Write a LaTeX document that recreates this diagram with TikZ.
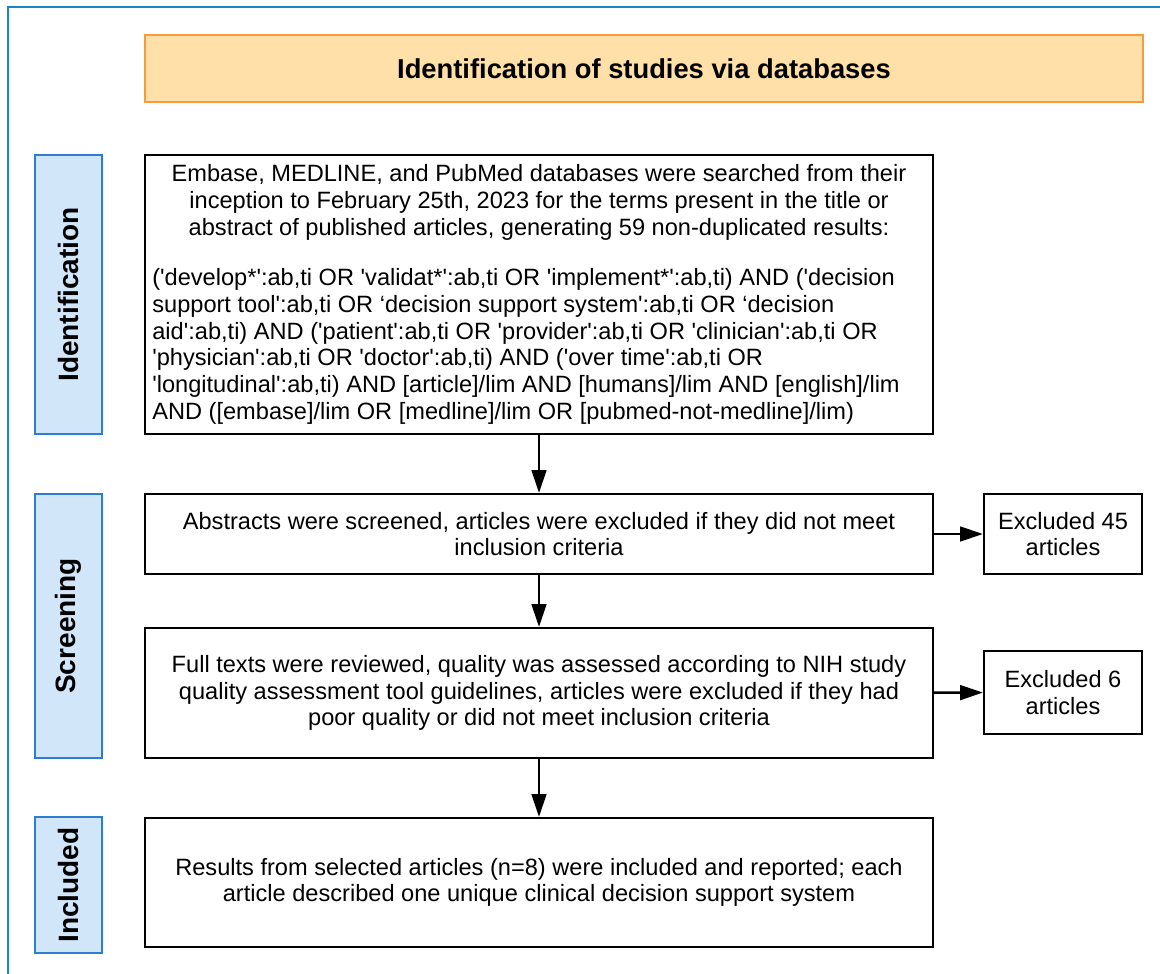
\documentclass[tikz,border=0pt]{standalone}
\usepackage{fontspec}
\setmainfont{Liberation Sans}
\usetikzlibrary{arrows.meta}
\definecolor{outerblue}{HTML}{1A87C4}
\definecolor{phasefill}{HTML}{D2E6FA}
\definecolor{phaseline}{HTML}{2E7DD2}
\definecolor{headfill}{HTML}{FEE0A8}
\definecolor{headline}{HTML}{F79C3C}
\newcommand{\apos}{\textquotesingle}

\begin{document}
\begin{tikzpicture}[x=0.75pt,y=-0.75pt,
		every node/.style={font=\fontsize{17.7}{20}\selectfont},
		box/.style={draw,line width=1.7pt,minimum width=591pt,align=center},
		sidebox/.style={draw,line width=1.7pt,minimum width=118.5pt,align=center},
		phase/.style={draw=phaseline,fill=phasefill,line width=2pt,rotate=90,
			minimum height=50.25pt,font=\fontsize{21}{24}\selectfont\bfseries},
		flow/.style={line width=1.8pt,-{Triangle[length=17pt,width=11pt]}}]
				\useasboundingbox (0,0) rectangle (1160,974);
				\draw [outerblue,line width=2.2pt] (8,974) -- (8,7) -- (1160,7);

				\node [draw=headline,fill=headfill,line width=2pt,minimum width=748.5pt,
					minimum height=50.25pt,font=\fontsize{20.5}{24}\selectfont\bfseries]
					(head) at (644,68.5) {Identification of studies via databases};

				\node [phase,minimum width=209.25pt] (ident) at (68.5,294.5) {Identification};
				\node [phase,minimum width=198pt] (screening) at (68.5,626) {Screening};
				\node [phase,minimum width=102pt] (included) at (68.5,885) {Included};

				\node [box,minimum height=209.25pt,text width=580pt,align=none] (search) at (539,294.5) {%
					{\centering Embase, MEDLINE, and PubMed databases were searched from their\\
					inception to February 25th, 2023 for the terms present in the title or\\
					abstract of published articles, generating 59 non-duplicated results:\par}
					\vspace{18pt}
					{\raggedright (\apos develop*\apos:ab,ti OR \apos validat*\apos:ab,ti OR \apos implement*\apos:ab,ti) AND (\apos decision\\
					support tool\apos:ab,ti OR ‘decision support system\apos:ab,ti OR ‘decision\\
					aid\apos:ab,ti) AND (\apos patient\apos:ab,ti OR \apos provider\apos:ab,ti OR \apos clinician\apos:ab,ti OR\\
					\apos physician\apos:ab,ti OR \apos doctor\apos:ab,ti) AND (\apos over time\apos:ab,ti OR\\
					\apos longitudinal\apos:ab,ti) AND [article]/lim AND [humans]/lim AND [english]/lim\\
					AND ([embase]/lim OR [medline]/lim OR [pubmed-not-medline]/lim)\par}};
				\node [box,minimum height=60pt] (abstracts) at (539,534) {Abstracts were screened, articles were excluded if they did not meet\\inclusion criteria};
				\node [box,minimum height=97.5pt] (fulltext) at (539,693) {Full texts were reviewed, quality was assessed according to NIH study\\quality assessment tool guidelines, articles were excluded if they had\\poor quality or did not meet inclusion criteria};
				\node [box,minimum height=96.75pt] (results) at (539,882.5) {Results from selected articles (n=8) were included and reported; each\\article described one unique clinical decision support system};

				\node [sidebox,minimum height=60pt] (excla) at (1063,534) {Excluded 45\\articles};
				\node [sidebox,minimum height=62.25pt] (exclb) at (1063,692.5) {Excluded 6\\articles};

				\draw [flow] (search) -- (abstracts);
				\draw [flow] (abstracts) -- (fulltext);
				\draw [flow] (fulltext) -- (results);
				\draw [flow] (abstracts) -- (excla);
				\draw [flow] (fulltext) -- (exclb);
			\end{tikzpicture}
\end{document}
